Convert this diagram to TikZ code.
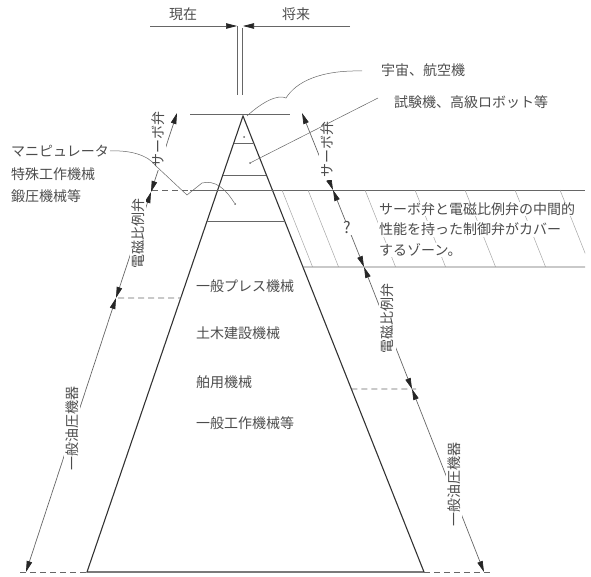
\documentclass[tikz,border=0pt]{standalone}
\usepackage{fontspec}
\newfontfamily\jp{Noto Sans CJK JP}
\usetikzlibrary{arrows.meta,calc}
\begin{document}
\begin{tikzpicture}[x=1pt,y=-1pt,
  ln/.style={draw=black!60, line width=0.7pt},
  dl/.style={ln, dash pattern=on 6pt off 4pt},
  pyr/.style={draw=black!80, line width=1.1pt},
  tipe/.style={-{Triangle[length=11pt,width=5.5pt,color=black!85]}},
  dtip/.style={{Triangle[length=11pt,width=5.5pt,color=black!85]}-{Triangle[length=11pt,width=5.5pt,color=black!85]}},
  lbl/.style={font=\jp\fontsize{14}{17}\selectfont, text=black!70, inner sep=1pt},
  vlbl/.style={lbl, rotate=90, fill=white, inner sep=2pt},
  hatch/.style={draw=black!35, line width=0.5pt},
  dotm/.style={circle, fill=black!60, inner sep=0pt, minimum size=2pt}]
\path[use as bounding box] (0,0) rectangle (591,577);

% ---- top: present / future
\node[lbl] (now) at (183,14) {現在};
\node[lbl] (fut) at (296,14) {将来};
\coordinate (nowL) at (150,26);
\coordinate (nowT) at (237,26);
\coordinate (futR) at (350,26);
\coordinate (futT) at (243,26);
\coordinate (v1b) at (237,95);
\coordinate (v2t) at (242,28);
\coordinate (v2b) at (242,95);
\draw[ln,tipe] (nowL) -- (nowT);
\draw[ln,tipe] (futR) -- (futT);
\draw[ln] (nowT) -- (v1b);
\draw[ln] (v2t) -- (v2b);

% ---- pyramid
\coordinate (apex) at (243,116);
\coordinate (bl) at (87,572);
\coordinate (br) at (424,572);
\draw[pyr] (apex) -- (bl) -- (br) -- cycle;
\coordinate (l1) at ($(apex)!0.0592!(bl)$);
\coordinate (r1) at ($(apex)!0.0592!(br)$);
\coordinate (l2) at ($(apex)!0.1294!(bl)$);
\coordinate (r2) at ($(apex)!0.1294!(br)$);
\coordinate (l3) at ($(apex)!0.2303!(bl)$);
\coordinate (r3) at ($(apex)!0.2303!(br)$);
\draw[ln] (l1) -- (r1);
\draw[ln] (l2) -- (r2);
\draw[ln] (l3) -- (r3);

% ---- extension lines
\coordinate (topL) at (190,114);
\coordinate (topR) at (290,114);
\draw[ln] (topL) -- (topR);
\coordinate (z1a) at (152,190);
\coordinate (z1b) at (190,190);
\coordinate (z1R) at (585,190);
\draw[dl] (z1a) -- (z1b);
\draw[ln] (z1b) -- (z1R);
\coordinate (ez1) at ($(apex)!0.1623!(br)$);
\coordinate (ez2) at ($(apex)!0.3311!(br)$);
\coordinate (z2R) at (585,267);
\draw[ln] (ez2) -- (z2R);
\begin{scope}
  \clip (ez1) -- (z1R) -- (z2R) -- (ez2) -- cycle;
  \foreach \x in {282,308,365,415,465,515,560} {
    \draw[hatch] (\x,190) -- ++(30.6,77);
  }
\end{scope}
\coordinate (pl) at (118,298);
\coordinate (ple) at ($(apex)!0.399!(bl)$);
\draw[dl] (pl) -- (ple);
\coordinate (pre) at ($(apex)!0.5987!(br)$);
\coordinate (pr) at (416,389);
\draw[dl] (pre) -- (pr);
\coordinate (bL) at (20,572);
\coordinate (bR) at (492,572);
\draw[dl] (bL) -- (bl);
\draw[dl] (br) -- (bR);

% ---- right dimension chain
\coordinate (T) at (302,113);
\coordinate (A) at (333,190);
\coordinate (B) at (364,267);
\coordinate (C) at (412,389);
\coordinate (D) at (484,572);
\draw[ln,dtip] (T) -- (A);
\draw[ln,dtip] (A) -- (B);
\draw[ln,dtip] (B) -- (C);
\draw[ln,dtip] (C) -- (D);
\node[vlbl] (rs) at (327,150) {サーボ弁};
\node[lbl, fill=white, font=\jp\fontsize{16}{18}\selectfont] (rq) at (347,228) {?};
\node[vlbl] (rp) at (387,318) {電磁比例弁};
\node[vlbl] (rg) at (454,484) {一般油圧機器};

% ---- left dimension chain
\coordinate (L0) at (177,113);
\coordinate (L1) at (151,192);
\coordinate (L2) at (116,298);
\coordinate (L3) at (26,572);
\draw[ln,dtip] (L0) -- (L1);
\draw[ln,dtip] (L1) -- (L2);
\draw[ln,dtip] (L2) -- (L3);
\node[vlbl] (ls) at (158,140) {サーボ弁};
\node[vlbl] (lp) at (138,234) {電磁比例弁};
\node[vlbl] (lg) at (72,428) {一般油圧機器};

% ---- zone text
\node[lbl, anchor=west, fill=white] (zt1) at (378,209) {サーボ弁と電磁比例弁の中間的};
\node[lbl, anchor=west, fill=white] (zt2) at (378,229) {性能を持った制御弁がカバー};
\node[lbl, anchor=west, fill=white] (zt3) at (378,250) {するゾーン。};

% ---- application labels and leaders
\node[dotm] (d1) at (244,137) {};
\node[dotm] (d2) at (250,163) {};
\node[dotm] (d3) at (235,204) {};
\node[lbl, anchor=west] (sky) at (380,70) {宇宙、航空機};
\node[lbl, anchor=west] (test) at (393,102) {試験機、高級ロボット等};
\coordinate (skyL) at (362,71);
\coordinate (skyE) at (247,116);
\draw[ln, line width=0.5pt] (skyL) .. controls (320,70) and (296,82) .. (286,98)
   .. controls (278,94) and (262,102) .. (skyE);
\coordinate (testL) at (378,98);
\draw[ln, line width=0.5pt] (testL) -- (d2);
\node[lbl, anchor=west] (mani) at (10,151) {マニピュレータ};
\node[lbl, anchor=west] (spec) at (10,174) {特殊工作機械};
\node[lbl, anchor=west] (forge) at (10,196) {鍛圧機械等};
\draw[ln, line width=0.5pt] (mani.east) .. controls (130,150) and (148,155) .. (156,166)
   -- (187,195) -- (202,183) .. controls (215,180) and (225,188) .. (d3);

% ---- pyramid contents
\node[lbl, anchor=west] (m1) at (195,286) {一般プレス機械};
\node[lbl, anchor=west] (m2) at (195,333) {土木建設機械};
\node[lbl, anchor=west] (m3) at (195,382) {舶用機械};
\node[lbl, anchor=west] (m4) at (195,423) {一般工作機械等};
\end{tikzpicture}
\end{document}
